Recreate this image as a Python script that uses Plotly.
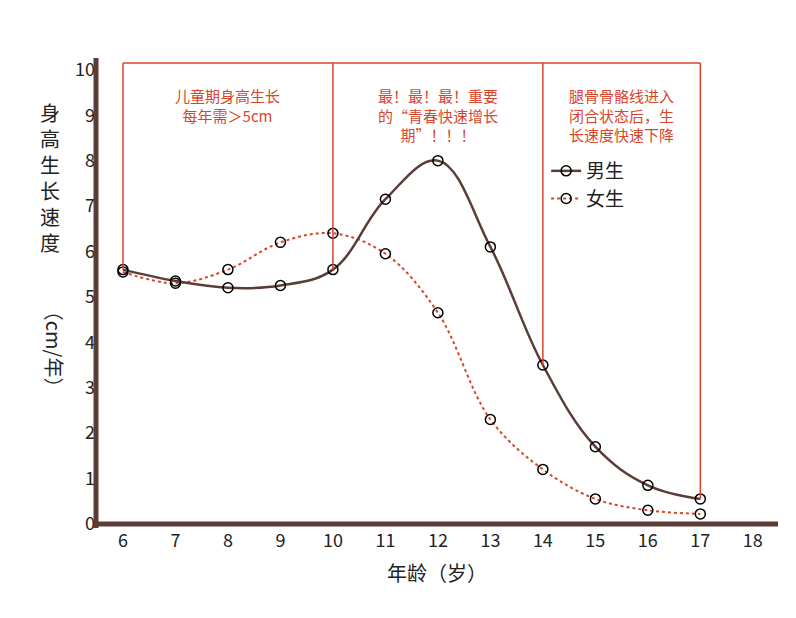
import plotly.graph_objects as go

ages = [6, 7, 8, 9, 10, 11, 12, 13, 14, 15, 16, 17]
boys = [5.6, 5.35, 5.2, 5.25, 5.6, 7.15, 8.0, 6.1, 3.5, 1.7, 0.85, 0.55]
girls = [5.55, 5.3, 5.6, 6.2, 6.4, 5.95, 4.65, 2.3, 1.2, 0.55, 0.3, 0.22]
x_ticks = list(range(6, 19))
y_ticks = list(range(0, 11))
notes = ["儿童期身高生长<br>每年需＞5cm", "最！最！最！重要<br>的“青春快速增长<br>期”！！！", "腿骨骨骼线进入<br>闭合状态后，生<br>长速度快速下降"]

brown = "#5b3d38"
red = "#d8452b"
fnt = "Noto Sans CJK SC"

fig = go.Figure()
top = 10.15
for xv, yv in [(6, boys[0]), (10, boys[4]), (14, boys[8]), (17, boys[11])]:
    fig.add_shape(type="line", x0=xv, x1=xv, y0=yv, y1=top, line=dict(color=red, width=1.5))
fig.add_shape(type="line", x0=6, x1=17, y0=top, y1=top, line=dict(color=red, width=1.5))

fig.add_trace(go.Scatter(x=ages, y=girls, mode="lines+markers", name="女生",
    line=dict(color=red, dash="dot", width=2, shape="spline"),
    marker=dict(symbol="circle-open", size=10, color="black", line=dict(width=1.5))))
fig.add_trace(go.Scatter(x=ages, y=boys, mode="lines+markers", name="男生",
    line=dict(color=brown, width=2.5, shape="spline", smoothing=1.1),
    marker=dict(symbol="circle-open", size=10, color="black", line=dict(width=1.5))))

for xv, t in zip([8, 12, 15.5], notes):
    fig.add_annotation(x=xv, y=9.7, text=t, showarrow=False, yanchor="top",
                       font=dict(color=red, size=15, family=fnt), align="center")

fig.add_annotation(xref="paper", yref="paper", x=-0.085, y=0.92, yanchor="top",
    text="<br>".join(list("身高生长速度")),
    showarrow=False, font=dict(size=20, family=fnt, color="#222"), align="center")
fig.add_annotation(xref="paper", yref="paper", x=-0.085, y=0.38, yanchor="middle",
    text="（cm/年）", textangle=90,
    showarrow=False, font=dict(size=20, family=fnt, color="#222"))

fig.update_layout(
    width=796, height=618, plot_bgcolor="white", paper_bgcolor="white",
    margin=dict(l=88, r=26, t=50, b=98, autoexpand=False),
    font=dict(family=fnt, color="#222"),
    legend=dict(x=0.66, y=0.8, traceorder="reversed", font=dict(size=19, family=fnt),
                bgcolor="rgba(0,0,0,0)"),
    xaxis=dict(range=[5.486, 18.48], tickvals=x_ticks, showgrid=False, zeroline=False,
               showline=False, tickfont=dict(size=18), ticks="", automargin=False,
               title=dict(text="年龄（岁）", font=dict(size=20), standoff=15)),
    yaxis=dict(range=[-0.09, 10.26], tickvals=y_ticks, showgrid=False, zeroline=False,
               showline=False, tickfont=dict(size=18), ticks="", automargin=False),
)
fig.add_shape(type="line", xref="paper", yref="paper", x0=0, x1=0, y0=0, y1=1,
              line=dict(color=brown, width=5))
fig.add_shape(type="line", xref="paper", y0=0, y1=0, x0=0, x1=1,
              line=dict(color=brown, width=5))
fig.write_html("out.html")
